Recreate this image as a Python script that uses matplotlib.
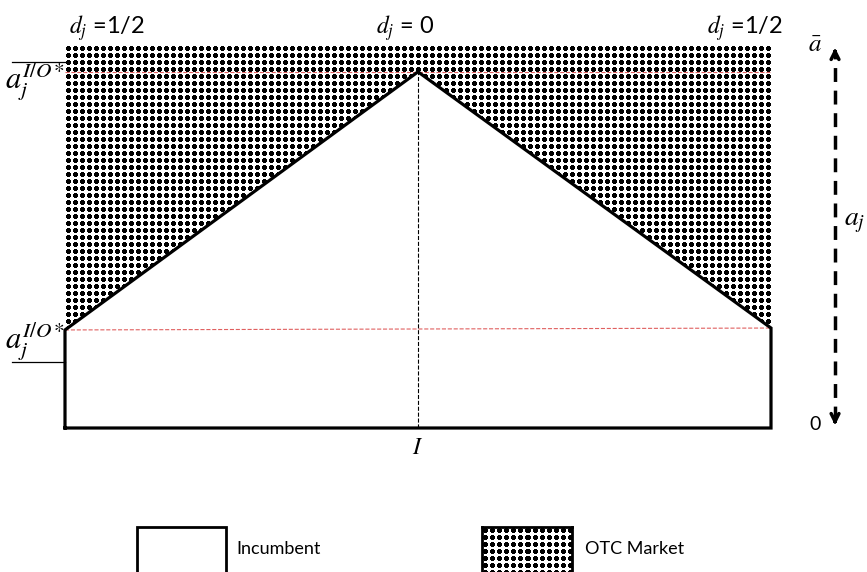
import numpy as np
import matplotlib.pyplot as plt
from matplotlib.patches import Polygon, Rectangle

plt.rcParams['mathtext.fontset'] = 'stix'
plt.rcParams['font.family'] = ['Lato', 'DejaVu Sans']

# position along the line I (0..1) and threshold a_j (0..a_bar)
x_pos = [0.0, 0.5, 1.0]
a_thresh = [0.256, 0.930, 0.261]
a_bar = 1.0
a_low_star = 0.256
a_high_star = 0.930
d_labels = ['$d_j$ =1/2', '$d_j$ = 0', '$d_j$ =1/2']
d_at = [0.06, 0.482, 0.963]
legend_labels = ['Incumbent', 'OTC Market']


def dot_texture(h, w, period=7):
    ii, jj = np.mgrid[0:h, 0:w]
    dx = np.abs(jj % period - 3)
    dy = np.abs(ii % period - 3)
    dots = (dx + dy <= 3) & (np.maximum(dx, dy) <= 2)
    return np.where(dots, 0.0, 1.0)


fig = plt.figure(figsize=(8.67, 5.72), dpi=100)
ax = fig.add_axes([65 / 867, 1 - 428 / 572, 706 / 867, 383 / 572])
ax.set_xlim(0, 1)
ax.set_ylim(0, a_bar)
ax.axis('off')

# OTC market region (above the threshold line)
otc_verts = list(zip(x_pos, a_thresh)) + [(x_pos[-1], a_bar), (x_pos[0], a_bar)]
otc_poly = Polygon(otc_verts, closed=True, facecolor='none', edgecolor='none')
ax.add_patch(otc_poly)
img = ax.imshow(dot_texture(383, 706), cmap='gray', vmin=0, vmax=1,
                extent=[0, 1, 0, a_bar], interpolation='nearest', aspect='auto')
img.set_clip_path(otc_poly)

# red dashed reference levels
ax.plot([x_pos[0], x_pos[-1]], [a_high_star, a_high_star], ls='--', color='#e06060', lw=0.8)
ax.plot([x_pos[0], x_pos[-1]], [a_low_star, a_low_star + 0.005], ls='--', color='#e06060', lw=0.8)
# vertical dashed at I
ax.plot([x_pos[1], x_pos[1]], [0, a_high_star], ls='--', color='black', lw=0.8)

# incumbent region outline
ax.plot([x_pos[0]] + x_pos + [x_pos[-1], x_pos[0]],
        [0] + a_thresh + [0, 0], color='black', lw=2.3, solid_joinstyle='miter',
        clip_on=False)

# left tick marks and labels
for yv in [0.956, 0.172]:
    ax.plot([-0.075, 0], [yv, yv], color='black', lw=0.9, clip_on=False)
ax.text(-0.042, 0.905, r'$a_j^{I/O*}$', fontsize=22, ha='center', va='center')
ax.text(-0.042, 0.225, r'$a_j^{I/O*}$', fontsize=22, ha='center', va='center')

# top labels
for xv, lab in zip(d_at, d_labels):
    ax.text(xv, 1.045, lab, fontsize=17, ha='center', va='center')

ax.text(0.5, -0.05, '$I$', fontsize=17, ha='center', va='center')

# right arrow for a_j
xa = 1.0907
ax.plot([xa, xa], [0.02, 0.98], ls=(0, (4, 2.5)), color='black', lw=2.5, clip_on=False)
ax.annotate('', xy=(xa, a_bar), xytext=(xa, 0.97),
            arrowprops=dict(arrowstyle='->', lw=2.5, mutation_scale=14, color='black'),
            annotation_clip=False)
ax.annotate('', xy=(xa, 0.0), xytext=(xa, 0.03),
            arrowprops=dict(arrowstyle='->', lw=2.5, mutation_scale=14, color='black'),
            annotation_clip=False)
ax.text(1.062, a_bar, r'$\bar{a}$', fontsize=18, ha='center', va='center')
ax.text(1.119, 0.538, '$a_j$', fontsize=20, ha='center', va='center')
ax.text(1.062, 0.01, '0', fontsize=14, ha='center', va='center')

# legend
fig.patches.append(Rectangle((137 / 867, -0.05), 89 / 867, 45 / 572 + 0.05,
                             transform=fig.transFigure, facecolor='white',
                             edgecolor='black', lw=2))
fig.text(236 / 867, 23 / 572, legend_labels[0], fontsize=13, va='center')
lax = fig.add_axes([482 / 867, -0.05, 90 / 867, 45 / 572 + 0.05])
lax.imshow(dot_texture(74, 90), cmap='gray', vmin=0, vmax=1,
           interpolation='nearest', aspect='auto')
lax.set_xticks([])
lax.set_yticks([])
for sp in lax.spines.values():
    sp.set_linewidth(2)
fig.text(585 / 867, 23 / 572, legend_labels[1], fontsize=13, va='center')

fig.savefig('out.png', dpi=100)
